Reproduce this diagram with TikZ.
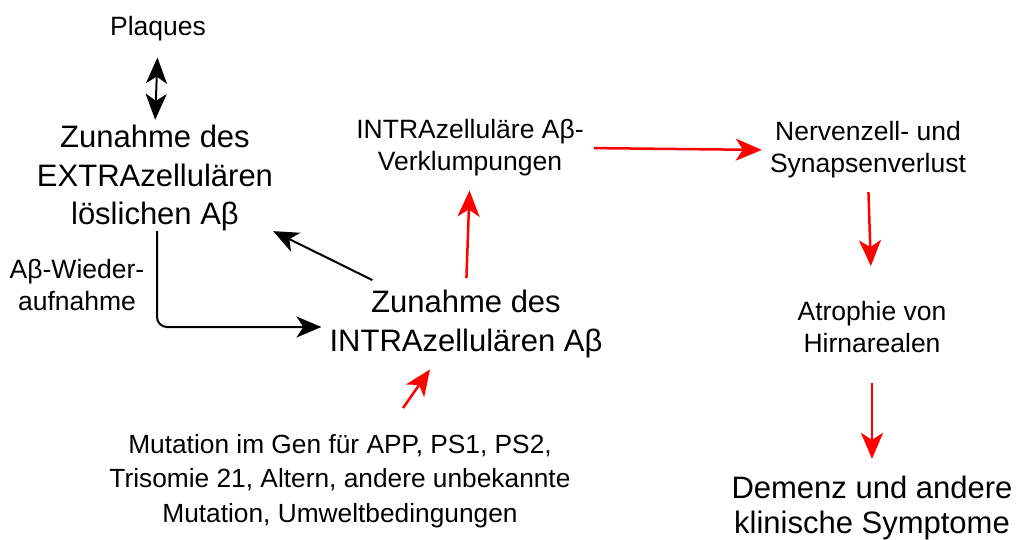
\documentclass[tikz,border=0pt]{standalone}
\usepackage{fontspec}
\setmainfont{Liberation Sans}
\usetikzlibrary{arrows.meta}
\begin{document}
\begin{tikzpicture}[x=1pt, y=-1pt,
            every node/.style={align=center, inner sep=0pt},
            small/.style={font=\fontsize{26.5}{32}\selectfont},
            big/.style={font=\fontsize{31}{38.5}\selectfont},
            blackarrow/.style={draw=black, line width=2pt, -{Stealth[length=25pt, width=21pt, inset=7pt]}},
            redarrow/.style={draw=red, line width=2.5pt, -{Stealth[length=26pt, width=22pt, inset=7pt]}}]
        \useasboundingbox (0,0) rectangle (1019,540);
        % nodes
        \node [small] (plaques) at (158,29) {Plaques};
        \node [big] (extra) at (155,178) {Zunahme des\\EXTRAzellulären\\löslichen Aβ};
        \node [small] (wieder) at (77,285) {Aβ-Wieder-\\aufnahme};
        \node [small] (klump) at (470,148) {INTRAzelluläre Aβ-\\Verklumpungen};
        \node [small] (nerv) at (868,150) {Nervenzell- und\\Synapsenverlust};
        \node [big] (intra) at (466,324) {Zunahme des\\INTRAzellulären Aβ};
        \node [small] (atro) at (872,327) {Atrophie von\\Hirnarealen};
        \node [small, font=\fontsize{26.3}{34.5}\selectfont] (mut) at (340,481)
            {Mutation im Gen für APP, PS1, PS2,\\Trisomie 21, Altern, andere unbekannte\\Mutation, Umweltbedingungen};
        \node [big, font=\fontsize{31}{35}\selectfont] (demenz) at (872,508) {Demenz und andere\\klinische Symptome};
        % black connectors
        \draw [black, line width=2pt, {Stealth[length=26pt, width=21pt, inset=7pt]}-{Stealth[length=26pt, width=21pt, inset=7pt]},
            shorten <=16pt, shorten >=5pt] (plaques.south) -- (extra.north);
        \draw [blackarrow] ([xshift=43pt, yshift=10pt]intra.north west) -- (extra.south east);
        \draw [blackarrow, rounded corners=10pt, shorten >=8pt] ([xshift=2pt]extra.south) |- ([yshift=-3pt]intra.west);
        % red connectors
        \draw [redarrow, shorten <=12pt, shorten >=14pt] (intra.north) -- (klump.south);
        \draw [redarrow, shorten <=10pt, shorten >=8pt] (klump.east) -- (nerv.west);
        \draw [redarrow] ([shift={(63pt,26pt)}]mut.north) -- ([shift={(-36pt,-11.5pt)}]intra.south);
        \draw [redarrow, shorten <=13.5pt, shorten >=35pt] (nerv.south) -- (atro.north);
        \draw [redarrow, shorten <=30pt, shorten >=17pt] (atro.south) -- (demenz.north);
    \end{tikzpicture}
\end{document}
